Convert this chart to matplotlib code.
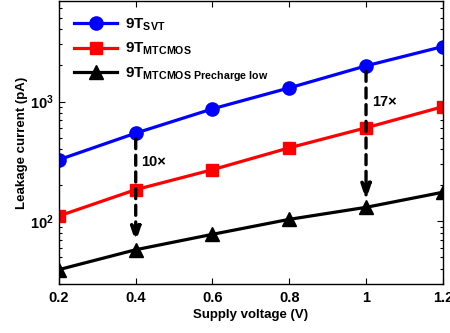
import math
import matplotlib
matplotlib.use("Agg")
import matplotlib.pyplot as plt
from matplotlib.ticker import LogLocator, FuncFormatter, NullFormatter

# supply voltage sweep and leakage per cell variant (pA)
vdd = [0.2, 0.4, 0.6, 0.8, 1.0, 1.2]
leak_svt = [327, 545, 869, 1300, 1985, 2875]
leak_mtcmos = [111, 184, 270, 411, 604, 905]
leak_pre_low = [39.6, 58, 78, 104, 131, 175]

series_labels = [r'9T$_{SVT}$', r'9T$_{MTCMOS}$', r'9T$_{MTCMOS\ Precharge\ low}$']
ratio_labels = ['10×', '17×']
ratio_vdd = [0.4, 1.0]
ratio_text_y = [310, 1000]

plt.rcParams['font.family'] = ['Liberation Sans', 'DejaVu Sans']
plt.rcParams['font.weight'] = 'bold'
plt.rcParams['mathtext.fontset'] = 'custom'
plt.rcParams['mathtext.rm'] = 'Liberation Sans:bold'
plt.rcParams['mathtext.it'] = 'Liberation Sans:bold'
plt.rcParams['mathtext.bf'] = 'Liberation Sans:bold'
plt.rcParams['mathtext.default'] = 'rm'

fig = plt.figure(figsize=(4.5, 3.33), dpi=100)
ax = fig.add_axes([0.131, 0.147, 0.853, 0.85])

ax.plot(vdd, leak_svt, '-o', color='#0000ff', lw=2.3, ms=9.5, label=series_labels[0])
ax.plot(vdd, leak_mtcmos, '-s', color='#ff0000', lw=2.3, ms=9, label=series_labels[1])
ax.plot(vdd, leak_pre_low, '-^', color='black', lw=2.3, ms=9.5, label=series_labels[2])

ax.set_yscale('log')
ax.set_xlim(0.2, 1.2)
ax.set_ylim(30, 6900)
ax.set_xticks(vdd)
ax.set_xticklabels(['0.2', '0.4', '0.6', '0.8', '1', '1.2'])
ax.yaxis.set_major_locator(LogLocator(base=10, numticks=10))
ax.yaxis.set_major_formatter(FuncFormatter(lambda v, p: r'$10^{%d}$' % round(math.log10(v))))
ax.yaxis.set_minor_formatter(NullFormatter())

ax.tick_params(which='both', direction='in', top=True, right=True, labelsize=10.5, width=0.8)
ax.tick_params(which='major', length=4)
ax.tick_params(which='minor', length=2)
ax.tick_params(axis='x', pad=5)
for s in ax.spines.values():
    s.set_linewidth(1.0)

ax.set_xlabel('Supply voltage (V)', fontsize=9.5, fontweight='bold', labelpad=3)
ax.set_ylabel('Leakage current (pA)', fontsize=9.5, fontweight='bold', labelpad=2)

# dashed arrows showing the leakage reduction
for xv, txt, ty in zip(ratio_vdd, ratio_labels, ratio_text_y):
    i = vdd.index(xv)
    ax.annotate('', xy=(vdd[i], leak_pre_low[i] * 1.15), xytext=(vdd[i], leak_svt[i] * 0.9),
                arrowprops=dict(arrowstyle='-|>,head_length=0.9,head_width=0.3', color='black',
                                lw=2.4, linestyle=(0, (3, 2)), shrinkA=0, shrinkB=0))
    ax.text(vdd[i] + 0.015, ty, txt, fontsize=10.5, fontweight='bold', va='center', ha='left')

leg = ax.legend(loc='upper left', frameon=False, fontsize=11, handlelength=2.8,
                labelspacing=0.55, borderaxespad=0.5, borderpad=0.5, handletextpad=0.5)

fig.savefig('out.png', dpi=100)
